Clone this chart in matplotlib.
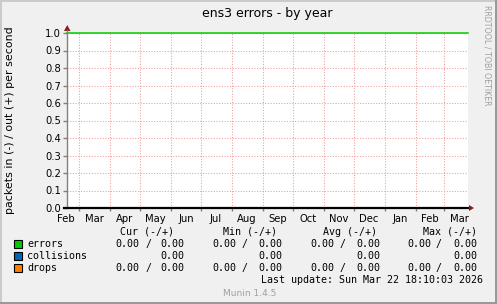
import matplotlib
matplotlib.use("Agg")
import matplotlib.pyplot as plt
from matplotlib.patches import Rectangle, Polygon
from matplotlib.lines import Line2D
import numpy as np

W, H = 497, 304

# ---------------- data ----------------
title = "ens3 errors - by year"
ylabel = "packets in (-) / out (+) per second"
x_start = np.datetime64("2025-02-17")
x_end = np.datetime64("2026-03-25")
month_labels = ["Feb", "Mar", "Apr", "May", "Jun", "Jul", "Aug", "Sep",
                "Oct", "Nov", "Dec", "Jan", "Feb", "Mar"]
label_dates = np.array(["2025-02-16", "2025-03-16", "2025-04-16", "2025-05-16",
                        "2025-06-16", "2025-07-16", "2025-08-16", "2025-09-16",
                        "2025-10-16", "2025-11-16", "2025-12-16", "2026-01-16",
                        "2026-02-15", "2026-03-16"], dtype="datetime64[D]")
grid_dates = np.array(["2025-03-01", "2025-04-01", "2025-05-01", "2025-06-01",
                       "2025-07-01", "2025-08-01", "2025-09-01", "2025-10-01",
                       "2025-11-01", "2025-12-01", "2026-01-01", "2026-02-01",
                       "2026-03-01"], dtype="datetime64[D]")
yticks = [0.0, 0.1, 0.2, 0.3, 0.4, 0.5, 0.6, 0.7, 0.8, 0.9, 1.0]

series_t = np.array(["2025-02-17", "2026-03-25"], dtype="datetime64[D]")
errors_vals = [1.0, 1.0]
collisions_vals = [0.0, 0.0]
drops_vals = [0.0, 0.0]

series_names = ["errors", "collisions", "drops"]
series_colors = ["#00CC00", "#0066B3", "#FF8000"]
headers = ["Cur (-/+)", "Min (-/+)", "Avg (-/+)", "Max (-/+)"]
# per series, per stat: (in, out) ; None = not shown
stat_values = {
    "errors":     [("0.00", "0.00"), ("0.00", "0.00"), ("0.00", "0.00"), ("0.00", "0.00")],
    "collisions": [(None, "0.00"), (None, "0.00"), (None, "0.00"), (None, "0.00")],
    "drops":      [("0.00", "0.00"), ("0.00", "0.00"), ("0.00", "0.00"), ("0.00", "0.00")],
}
last_update = "Last update: Sun Mar 22 18:10:03 2026"
footer = "Munin 1.4.5"
side_text = "RRDTOOL / TOBI OETIKER"

# ---------------- figure ----------------
BG = "#F0F0F0"
fig = plt.figure(figsize=(W / 100, H / 100), dpi=100, facecolor=BG)

def fx(x):
    return x / W

def fy(y):
    return 1 - y / H

# 3D border
fig.add_artist(Rectangle((0, 0), fx(2), 1, transform=fig.transFigure, color="#CBCBCB", lw=0))
fig.add_artist(Rectangle((0, fy(2)), 1, 2 / H, transform=fig.transFigure, color="#CBCBCB", lw=0))
fig.add_artist(Rectangle((fx(W - 2), 0), fx(2), 1, transform=fig.transFigure, color="#999999", lw=0))
fig.add_artist(Rectangle((0, 0), 1, 2 / H, transform=fig.transFigure, color="#999999", lw=0))

L, R, T, B = 67, 468, 33, 208
ax = fig.add_axes([fx(L), fy(B), (R - L) / W, (B - T) / H])
ax.set_facecolor("white")
ax.set_xlim(x_start, x_end)
ax.set_ylim(0, 1.0)
for s in ax.spines.values():
    s.set_visible(False)

grid_col = "#EE9A9A"
ax.set_xticks(grid_dates)
ax.set_xticklabels([])
ax.set_yticks(yticks)
ax.set_yticklabels(["%.1f" % v for v in yticks], fontsize=7.2, color="#000000")
ax.tick_params(axis="y", length=3, width=1, color="#808080", pad=1.5)
ax.tick_params(axis="x", length=2, width=1, color="#808080", direction="out")
ax.grid(True, color=grid_col, linestyle=(0, (1, 1.6)), linewidth=0.75)

# series
ax.plot(series_t, errors_vals, color=series_colors[0], lw=1.1, zorder=4, clip_on=False)
ax.plot(series_t, collisions_vals, color=series_colors[1], lw=1.0, zorder=3)
ax.plot(series_t, drops_vals, color=series_colors[2], lw=1.0, zorder=3)

# month labels
for d, lab in zip(label_dates, month_labels):
    ax.text(d, -0.035, lab, transform=ax.get_xaxis_transform(), ha="center", va="top",
            fontsize=7.2, clip_on=False)

# axes lines and arrows (pixel space)
arrow_col = "#8B1A1A"
fig.add_artist(Line2D([fx(L), fx(L)], [fy(B), fy(T - 3)], transform=fig.transFigure,
                      color="#808080", lw=1.0))
fig.add_artist(Line2D([fx(L - 3), fx(R + 1)], [fy(B), fy(B)], transform=fig.transFigure,
                      color="black", lw=1.6, zorder=10))
fig.add_artist(Polygon([(fx(L - 3), fy(T - 2)), (fx(L + 3.5), fy(T - 2)), (fx(L + 0.25), fy(T - 8))],
                       closed=True, transform=fig.transFigure, color=arrow_col, lw=0))
fig.add_artist(Polygon([(fx(R + 1), fy(B - 3)), (fx(R + 1), fy(B + 3)), (fx(R + 6), fy(B))],
                       closed=True, transform=fig.transFigure, color=arrow_col, lw=0, zorder=11))

# title and labels
fig.text(fx((L + R) / 2), fy(14), title, ha="center", va="center", fontsize=9, color="black")
fig.text(fx(10), fy((T + B) / 2), ylabel, ha="center", va="center", rotation=90, fontsize=7.9)
fig.text(fx(487), fy(5), side_text, ha="center", va="top", rotation=270, fontsize=5.7,
         color="#A0A0A0")

# legend
MONO = "DejaVu Sans Mono"
LFS = 7.2
hdr_right = [174, 277, 377, 477]
first_right = [139, 236, 334, 431]
slash_x = [149, 245, 342, 439]
second_right = [184, 282, 380, 477]
row_y = [244, 256, 268]
for i, h in enumerate(headers):
    fig.text(fx(hdr_right[i]), fy(232), h, ha="right", va="center", family=MONO, fontsize=LFS)
for name, col, yy in zip(series_names, series_colors, row_y):
    fig.add_artist(Rectangle((fx(13.5), fy(yy + 4)), 8 / W, 8 / H, transform=fig.transFigure,
                             facecolor=col, edgecolor="black", lw=0.8))
    fig.text(fx(27), fy(yy), name, ha="left", va="center", family=MONO, fontsize=LFS)
    for k, (vin, vout) in enumerate(stat_values[name]):
        if vin is not None:
            fig.text(fx(first_right[k]), fy(yy), vin, ha="right", va="center", family=MONO, fontsize=LFS)
            fig.text(fx(slash_x[k]), fy(yy), "/", ha="center", va="center", family=MONO, fontsize=LFS)
        if vout is not None:
            fig.text(fx(second_right[k]), fy(yy), vout, ha="right", va="center", family=MONO, fontsize=LFS)

fig.text(fx(483), fy(280), last_update, ha="right", va="center", family=MONO, fontsize=LFS)
fig.text(fx(250), fy(294), footer, ha="center", va="center", fontsize=6.5, color="#A0A0A0")

fig.savefig("out.png", dpi=100, facecolor=BG)
